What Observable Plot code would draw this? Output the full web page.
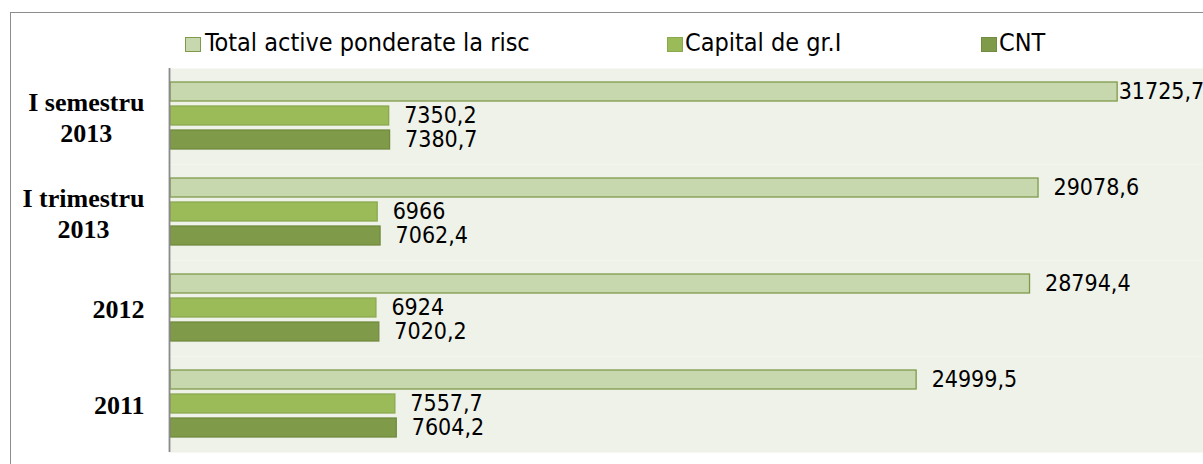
<!DOCTYPE html>
<html>
<head>
<meta charset="utf-8">
<script src="https://cdn.jsdelivr.net/npm/d3@7"></script>
<script src="https://cdn.jsdelivr.net/npm/@observablehq/plot@0.6"></script>
<style>
  html, body { margin: 0; padding: 0; background: #fff; overflow: hidden; width: 1203px; height: 464px; }
  #frame { position: absolute; left: 10px; top: 12px; width: 1400px; height: 600px;
           border-left: 1px solid #8c8c8c; border-top: 1px solid #8c8c8c; }
  .leg { position: absolute; font-family: "Liberation Sans Narrow", "Arial Narrow", "DejaVu Sans Condensed", sans-serif;
         font-size: 25px; line-height: 25px; color: #000; white-space: nowrap; }
  .sw { position: absolute; width: 14px; height: 13px; border: 1px solid; }
  #chart { position: absolute; left: 11px; top: 66px; width: 1204px; }
  #chart svg { max-width: none !important; }
</style>
</head>
<body>
<div id="frame"></div>
<div id="legend"></div>
<div id="chart"></div>
<script>
const categories = ["I semestru\n2013", "I trimestru\n2013", "2012", "2011"];
const seriesNames = ["Total active ponderate la risc", "Capital de gr.I", "CNT"];
const totalActive = [31725.7, 29078.6, 28794.4, 24999.5];
const capitalGrI = [7350.2, 6966, 6924, 7557.7];
const cnt = [7380.7, 7062.4, 7020.2, 7604.2];

const fills = ["#c8d8ae", "#9bbb59", "#7f9a48"];
const strokes = ["#7f9a4a", "#8aa94f", "#728b40"];
const seriesValues = [totalActive, capitalGrI, cnt];

const rows = [];
categories.forEach((c, i) => seriesNames.forEach((s, j) => rows.push({cat: c, series: s, value: seriesValues[j][i]})));
const maxValue = d3.max(rows, d => d.value);
const fmt = v => String(v).replace(".", ",");

// legend
const legendPos = [{sw: 185, tx: 205}, {sw: 667, tx: 685}, {sw: 981, tx: 999}];
const legend = document.getElementById("legend");
seriesNames.forEach((s, i) => {
  const sw = document.createElement("div");
  sw.className = "sw";
  sw.style.left = legendPos[i].sw + "px";
  sw.style.top = "37px";
  sw.style.background = fills[i];
  sw.style.borderColor = strokes[i];
  legend.appendChild(sw);
  const t = document.createElement("div");
  t.className = "leg";
  t.style.left = legendPos[i].tx + "px";
  t.style.top = "30px";
  t.textContent = s;
  legend.appendChild(t);
});

// measure category labels
const ctx = document.createElement("canvas").getContext("2d");
const catFont = "bold 26px 'Liberation Serif', 'Times New Roman', serif";
ctx.font = catFont;
const catWidth = c => d3.max(c.split("\n"), l => ctx.measureText(l).width);

const valueFont = "'Liberation Sans Narrow', 'Arial Narrow', 'DejaVu Sans Condensed', sans-serif";

const marks = [
  Plot.frame({fill: "#eff2e9", stroke: null}),
  ...seriesNames.map((s, j) => Plot.barX(rows.filter(d => d.series === s), {
    fy: "cat", y: "series", x: "value", fill: fills[j], stroke: strokes[j], strokeWidth: 1.3, insetLeft: 1
  })),
  Plot.ruleX([0], {stroke: "#8a8a8a", strokeWidth: 1.8}),
  Plot.text(rows, {
    fy: "cat", y: "series", x: "value", text: d => fmt(d.value),
    textAnchor: "start", dx: 15, fill: "#000",
    filter: d => d.value !== maxValue,
    fontFamily: valueFont, fontSize: 23
  }),
  Plot.text(rows, {
    fy: "cat", y: "series", x: "value", text: d => fmt(d.value),
    textAnchor: "start", dx: 1, fill: "#000",
    filter: d => d.value === maxValue,
    fontFamily: valueFont, fontSize: 23
  }),
  ...categories.map(c => Plot.text([c], {
    fy: d => d, text: d => d, frameAnchor: "left", textAnchor: "middle", lineAnchor: "middle",
    dx: -(25 + catWidth(c) / 2), lineHeight: 1.19, fill: "#000",
    fontFamily: "'Liberation Serif', 'Times New Roman', serif", fontWeight: "bold", fontSize: 26
  }))
];

const chart = Plot.plot({
  width: 1204, height: 398,
  marginLeft: 158, marginRight: 0, marginTop: 0, marginBottom: 11,
  style: {background: "transparent", overflow: "visible", maxWidth: "none"},
  x: {domain: [0, 35000], axis: null},
  y: {domain: seriesNames, axis: null, paddingInner: 0.2, paddingOuter: 0.59},
  fy: {domain: categories, axis: null, padding: 0},
  marks
});
document.getElementById("chart").appendChild(chart);
</script>
</body>
</html>
